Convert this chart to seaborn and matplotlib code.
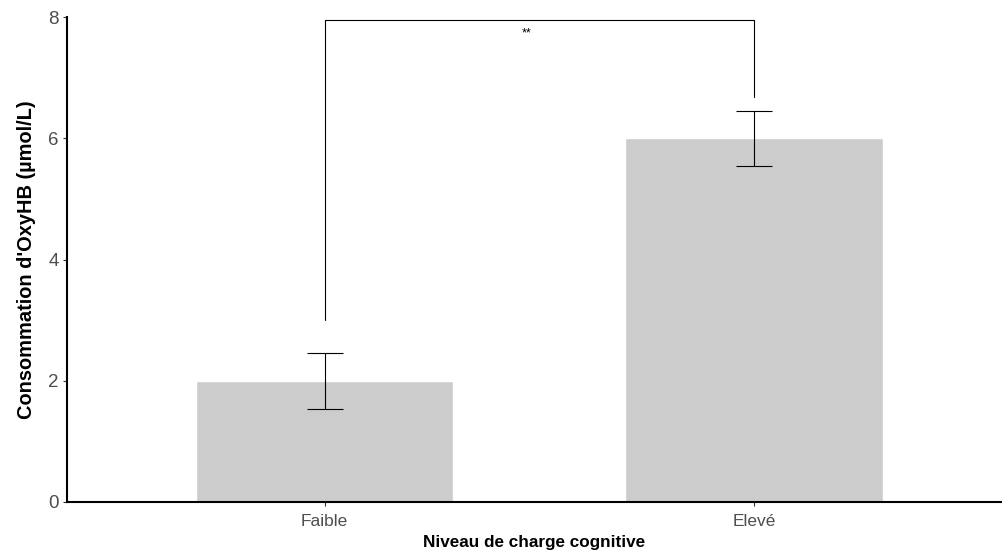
import matplotlib
matplotlib.use("Agg")
import matplotlib.pyplot as plt
import seaborn as sns
import pandas as pd

categories = ["Faible", "Elevé"]
means = [2.0, 6.0]
err_low = [1.53, 5.55]
err_high = [2.45, 6.45]
bracket_left_start = 3.0
bracket_right_start = 6.68
bracket_top = 7.95
sig_label = "**"
y_ticks = [0, 2, 4, 6, 8]

sns.set_theme(style="white")
plt.rcParams["font.family"] = ["Liberation Sans", "DejaVu Sans"]

df = pd.DataFrame({"niveau": categories, "val": means})

fig = plt.figure(figsize=(10.02, 5.56), dpi=100)
ax = fig.add_axes([67 / 1002, 54 / 556, (1002 - 67) / 1002, 485 / 556])

sns.barplot(data=df, x="niveau", y="val", color="#CCCCCC", saturation=1,
            width=0.6, errorbar=None, ax=ax)

xs = list(range(len(categories)))
yerr = [[m - l for m, l in zip(means, err_low)],
        [h - m for m, h in zip(means, err_high)]]
ax.errorbar(xs, means, yerr=yerr, fmt="none", ecolor="black",
            elinewidth=0.8, capsize=13, capthick=0.8)

# significance bracket
ax.plot([0, 0, 1, 1],
        [bracket_left_start, bracket_top, bracket_top, bracket_right_start],
        color="black", lw=0.8)
ax.text(0.47, bracket_top - 0.22, sig_label, ha="center", va="center",
        fontsize=9, color="black")

ax.set_ylim(0, 8)
ax.set_xlim(-0.6, 1.578)
ax.set_yticks(y_ticks)
ax.set_yticklabels([str(t) for t in y_ticks])

for s in ["top", "right"]:
    ax.spines[s].set_visible(False)
for s in ["left", "bottom"]:
    ax.spines[s].set_color("black")
    ax.spines[s].set_linewidth(1.5)

ax.tick_params(axis="both", which="both", length=3, width=0.8, color="#333333",
               labelcolor="#4D4D4D", left=True, bottom=True)
ax.tick_params(axis="x", labelsize=12.5, pad=6)
ax.tick_params(axis="y", labelsize=13.5, pad=3)

ax.set_xlabel("Niveau de charge cognitive", fontsize=12.3, fontweight="bold",
              color="black", labelpad=4)
ax.set_ylabel("Consommation d'OxyHB (µmol/L)", fontsize=14.4, fontweight="bold",
              color="black", labelpad=9)

fig.savefig("out.png", dpi=100)
